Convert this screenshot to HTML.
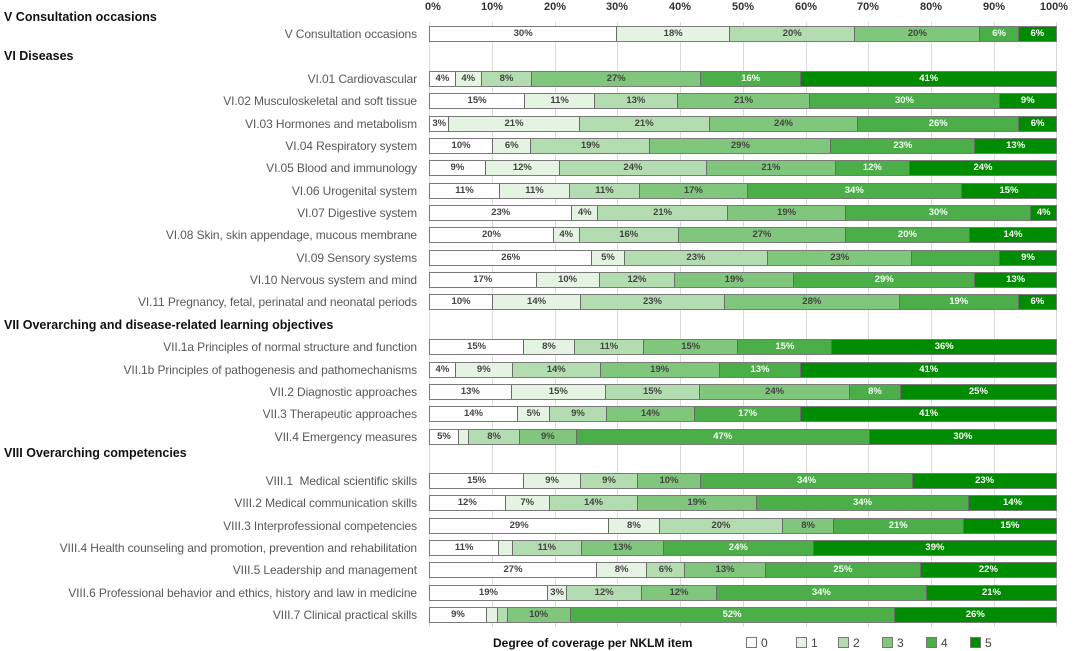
<!DOCTYPE html>
<html><head><meta charset="utf-8"><style>
body{margin:0;width:1074px;height:651px;background:#fff;position:relative;overflow:hidden;font-family:"Liberation Sans",sans-serif}
.g{position:absolute;top:22px;height:605px;width:1px;background:#dadada}
.t{position:absolute;top:1px;font-size:11px;font-weight:bold;color:#333;width:40px;text-align:center;margin-left:-20px}
.h{position:absolute;left:4px;font-size:12.5px;font-weight:bold;color:#111;line-height:16px}
.l{position:absolute;right:657px;font-size:12px;color:#595959;line-height:16px;white-space:nowrap;letter-spacing:-0.1px}
.b{position:absolute;left:429px;width:628px;height:16px;display:flex;border:1px solid #7a7a7a;box-sizing:border-box;background:#fff}
.b span{display:block;height:100%;border-right:1px solid #6a6a6a;box-sizing:border-box;font-size:9.5px;font-weight:bold;color:#444;text-align:center;line-height:14px;overflow:hidden;white-space:nowrap}
.b span:last-child{border-right:none}
.c0{background:#fff}.c1{background:#e5f3e3}.c2{background:#b3dcb0}.c3{background:#80c67c}.c4{background:#4cae48;color:#f4fff4!important}.c5{background:#008c00;color:#fff!important}
.lg{position:absolute;top:636px;font-size:12px;color:#444}
.lg i{display:inline-block;width:9px;height:9px;border:1px solid #777;margin-right:4px;vertical-align:-1px}
</style></head><body>
<div class="g" style="left:429px"></div><div class="g" style="left:492px"></div><div class="g" style="left:555px"></div><div class="g" style="left:617px"></div><div class="g" style="left:680px"></div><div class="g" style="left:743px"></div><div class="g" style="left:806px"></div><div class="g" style="left:868px"></div><div class="g" style="left:931px"></div><div class="g" style="left:994px"></div><div class="g" style="left:1056px"></div>
<div class="t" style="left:433px">0%</div><div class="t" style="left:492px">10%</div><div class="t" style="left:555px">20%</div><div class="t" style="left:617px">30%</div><div class="t" style="left:680px">40%</div><div class="t" style="left:743px">50%</div><div class="t" style="left:806px">60%</div><div class="t" style="left:868px">70%</div><div class="t" style="left:931px">80%</div><div class="t" style="left:994px">90%</div><div class="t" style="left:1054px">100%</div>

<div class="h" style="top:9px">V Consultation occasions</div>
<div class="h" style="top:48px">VI Diseases</div>
<div class="h" style="top:317px">VII Overarching and disease-related learning objectives</div>
<div class="h" style="top:445px">VIII Overarching competencies</div>

<div class="l" style="top:26px">V Consultation occasions</div>
<div class="b" style="top:26px"><span class="c0" style="flex:30">30%</span><span class="c1" style="flex:18">18%</span><span class="c2" style="flex:20">20%</span><span class="c3" style="flex:20">20%</span><span class="c4" style="flex:6">6%</span><span class="c5" style="flex:6">6%</span></div>

<div class="l" style="top:71px">VI.01 Cardiovascular</div>
<div class="b" style="top:71px"><span class="c0" style="flex:4">4%</span><span class="c1" style="flex:4">4%</span><span class="c2" style="flex:8">8%</span><span class="c3" style="flex:27">27%</span><span class="c4" style="flex:16">16%</span><span class="c5" style="flex:41">41%</span></div>
<div class="l" style="top:93px">VI.02 Musculoskeletal and soft tissue</div>
<div class="b" style="top:93px"><span class="c0" style="flex:15">15%</span><span class="c1" style="flex:11">11%</span><span class="c2" style="flex:13">13%</span><span class="c3" style="flex:21">21%</span><span class="c4" style="flex:30">30%</span><span class="c5" style="flex:9">9%</span></div>
<div class="l" style="top:116px">VI.03 Hormones and metabolism</div>
<div class="b" style="top:116px"><span class="c0" style="flex:3">3%</span><span class="c1" style="flex:21">21%</span><span class="c2" style="flex:21">21%</span><span class="c3" style="flex:24">24%</span><span class="c4" style="flex:26">26%</span><span class="c5" style="flex:6">6%</span></div>
<div class="l" style="top:138px">VI.04 Respiratory system</div>
<div class="b" style="top:138px"><span class="c0" style="flex:10">10%</span><span class="c1" style="flex:6">6%</span><span class="c2" style="flex:19">19%</span><span class="c3" style="flex:29">29%</span><span class="c4" style="flex:23">23%</span><span class="c5" style="flex:13">13%</span></div>
<div class="l" style="top:160px">VI.05 Blood and immunology</div>
<div class="b" style="top:160px"><span class="c0" style="flex:9">9%</span><span class="c1" style="flex:12">12%</span><span class="c2" style="flex:24">24%</span><span class="c3" style="flex:21">21%</span><span class="c4" style="flex:12">12%</span><span class="c5" style="flex:24">24%</span></div>
<div class="l" style="top:183px">VI.06 Urogenital system</div>
<div class="b" style="top:183px"><span class="c0" style="flex:11">11%</span><span class="c1" style="flex:11">11%</span><span class="c2" style="flex:11">11%</span><span class="c3" style="flex:17">17%</span><span class="c4" style="flex:34">34%</span><span class="c5" style="flex:15">15%</span></div>
<div class="l" style="top:205px">VI.07 Digestive system</div>
<div class="b" style="top:205px"><span class="c0" style="flex:23">23%</span><span class="c1" style="flex:4">4%</span><span class="c2" style="flex:21">21%</span><span class="c3" style="flex:19">19%</span><span class="c4" style="flex:30">30%</span><span class="c5" style="flex:4">4%</span></div>
<div class="l" style="top:227px">VI.08 Skin, skin appendage, mucous membrane</div>
<div class="b" style="top:227px"><span class="c0" style="flex:20">20%</span><span class="c1" style="flex:4">4%</span><span class="c2" style="flex:16">16%</span><span class="c3" style="flex:27">27%</span><span class="c4" style="flex:20">20%</span><span class="c5" style="flex:14">14%</span></div>
<div class="l" style="top:250px">VI.09 Sensory systems</div>
<div class="b" style="top:250px"><span class="c0" style="flex:26">26%</span><span class="c1" style="flex:5">5%</span><span class="c2" style="flex:23">23%</span><span class="c3" style="flex:23">23%</span><span class="c4" style="flex:14"></span><span class="c5" style="flex:9">9%</span></div>
<div class="l" style="top:272px">VI.10 Nervous system and mind</div>
<div class="b" style="top:272px"><span class="c0" style="flex:17">17%</span><span class="c1" style="flex:10">10%</span><span class="c2" style="flex:12">12%</span><span class="c3" style="flex:19">19%</span><span class="c4" style="flex:29">29%</span><span class="c5" style="flex:13">13%</span></div>
<div class="l" style="top:294px">VI.11 Pregnancy, fetal, perinatal and neonatal periods</div>
<div class="b" style="top:294px"><span class="c0" style="flex:10">10%</span><span class="c1" style="flex:14">14%</span><span class="c2" style="flex:23">23%</span><span class="c3" style="flex:28">28%</span><span class="c4" style="flex:19">19%</span><span class="c5" style="flex:6">6%</span></div>

<div class="l" style="top:339px">VII.1a Principles of normal structure and function</div>
<div class="b" style="top:339px"><span class="c0" style="flex:15">15%</span><span class="c1" style="flex:8">8%</span><span class="c2" style="flex:11">11%</span><span class="c3" style="flex:15">15%</span><span class="c4" style="flex:15">15%</span><span class="c5" style="flex:36">36%</span></div>
<div class="l" style="top:362px">VII.1b Principles of pathogenesis and pathomechanisms</div>
<div class="b" style="top:362px"><span class="c0" style="flex:4">4%</span><span class="c1" style="flex:9">9%</span><span class="c2" style="flex:14">14%</span><span class="c3" style="flex:19">19%</span><span class="c4" style="flex:13">13%</span><span class="c5" style="flex:41">41%</span></div>
<div class="l" style="top:384px">VII.2 Diagnostic approaches</div>
<div class="b" style="top:384px"><span class="c0" style="flex:13">13%</span><span class="c1" style="flex:15">15%</span><span class="c2" style="flex:15">15%</span><span class="c3" style="flex:24">24%</span><span class="c4" style="flex:8">8%</span><span class="c5" style="flex:25">25%</span></div>
<div class="l" style="top:406px">VII.3 Therapeutic approaches</div>
<div class="b" style="top:406px"><span class="c0" style="flex:14">14%</span><span class="c1" style="flex:5">5%</span><span class="c2" style="flex:9">9%</span><span class="c3" style="flex:14">14%</span><span class="c4" style="flex:17">17%</span><span class="c5" style="flex:41">41%</span></div>
<div class="l" style="top:429px">VII.4 Emergency measures</div>
<div class="b" style="top:429px"><span class="c0" style="flex:4.5">5%</span><span class="c1" style="flex:1.5"></span><span class="c2" style="flex:8">8%</span><span class="c3" style="flex:9">9%</span><span class="c4" style="flex:47">47%</span><span class="c5" style="flex:30">30%</span></div>

<div class="l" style="top:473px">VIII.1&nbsp; Medical scientific skills</div>
<div class="b" style="top:473px"><span class="c0" style="flex:15">15%</span><span class="c1" style="flex:9">9%</span><span class="c2" style="flex:9">9%</span><span class="c3" style="flex:10">10%</span><span class="c4" style="flex:34">34%</span><span class="c5" style="flex:23">23%</span></div>
<div class="l" style="top:495px">VIII.2 Medical communication skills</div>
<div class="b" style="top:495px"><span class="c0" style="flex:12">12%</span><span class="c1" style="flex:7">7%</span><span class="c2" style="flex:14">14%</span><span class="c3" style="flex:19">19%</span><span class="c4" style="flex:34">34%</span><span class="c5" style="flex:14">14%</span></div>
<div class="l" style="top:518px">VIII.3 Interprofessional competencies</div>
<div class="b" style="top:518px"><span class="c0" style="flex:29">29%</span><span class="c1" style="flex:8">8%</span><span class="c2" style="flex:20">20%</span><span class="c3" style="flex:8">8%</span><span class="c4" style="flex:21">21%</span><span class="c5" style="flex:15">15%</span></div>
<div class="l" style="top:540px">VIII.4 Health counseling and promotion, prevention and rehabilitation</div>
<div class="b" style="top:540px"><span class="c0" style="flex:11">11%</span><span class="c1" style="flex:2"></span><span class="c2" style="flex:11">11%</span><span class="c3" style="flex:13">13%</span><span class="c4" style="flex:24">24%</span><span class="c5" style="flex:39">39%</span></div>
<div class="l" style="top:562px">VIII.5 Leadership and management</div>
<div class="b" style="top:562px"><span class="c0" style="flex:27">27%</span><span class="c1" style="flex:8">8%</span><span class="c2" style="flex:6">6%</span><span class="c3" style="flex:13">13%</span><span class="c4" style="flex:25">25%</span><span class="c5" style="flex:22">22%</span></div>
<div class="l" style="top:585px">VIII.6 Professional behavior and ethics, history and law in medicine</div>
<div class="b" style="top:585px"><span class="c0" style="flex:19">19%</span><span class="c1" style="flex:3">3%</span><span class="c2" style="flex:12">12%</span><span class="c3" style="flex:12">12%</span><span class="c4" style="flex:34">34%</span><span class="c5" style="flex:21">21%</span></div>
<div class="l" style="top:607px">VIII.7 Clinical practical skills</div>
<div class="b" style="top:607px"><span class="c0" style="flex:9">9%</span><span class="c1" style="flex:1.7"></span><span class="c2" style="flex:1.3"></span><span class="c3" style="flex:10">10%</span><span class="c4" style="flex:52">52%</span><span class="c5" style="flex:26">26%</span></div>

<div style="position:absolute;top:636px;left:493px;font-size:12px;font-weight:bold;color:#111">Degree of coverage per NKLM item</div>
<div class="lg" style="left:746px"><i class="c0"></i>0</div>
<div class="lg" style="left:796px"><i class="c1"></i>1</div>
<div class="lg" style="left:838px"><i class="c2"></i>2</div>
<div class="lg" style="left:882px"><i class="c3"></i>3</div>
<div class="lg" style="left:926px"><i class="c4"></i>4</div>
<div class="lg" style="left:970px"><i class="c5"></i>5</div>
</body></html>
